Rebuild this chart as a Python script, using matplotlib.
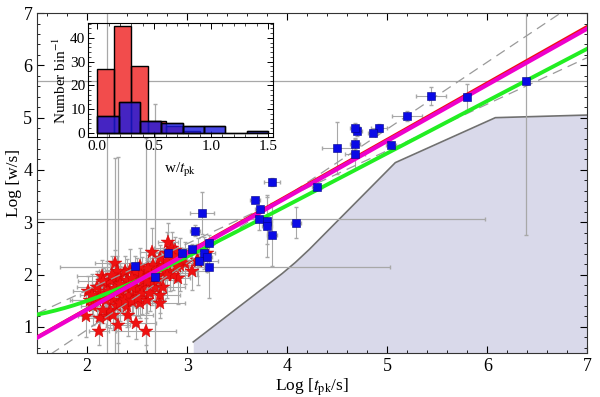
import numpy as np
import matplotlib
matplotlib.use("Agg")
import matplotlib.pyplot as plt
from matplotlib.ticker import MultipleLocator

plt.rcParams['font.family'] = ['Liberation Serif', 'DejaVu Serif']
plt.rcParams['mathtext.fontset'] = 'stix'

# ---------------- data ----------------
star_x = [2.12, 2.01, 2.03, 2.06, 1.99, 2.15, 2.28, 2.20, 2.13, 2.20, 2.31, 2.49, 2.59, 2.40, 2.53, 2.46,
          2.60, 2.73, 2.65, 2.73, 2.68, 2.76, 2.65, 2.81, 2.85, 2.80, 2.88, 2.83, 2.91, 2.86, 2.71, 2.98,
          3.05, 3.10, 3.20, 3.11, 2.23, 2.30, 2.33, 2.38, 2.43, 2.50, 2.55, 2.60, 2.46, 2.40, 2.33, 2.26,
          2.30, 2.23, 2.16, 2.10, 2.13, 2.21, 2.28, 2.35, 2.41, 2.50, 2.56, 2.55, 2.63, 2.70, 2.76, 2.78,
          2.66, 2.61, 2.53, 2.48, 2.40, 2.45, 2.30, 2.25, 2.16, 2.10, 2.05, 2.33, 2.38, 2.45, 2.51, 2.65,
          2.71, 2.80, 2.86, 2.93, 2.56, 2.63, 2.41, 2.26, 2.19, 2.33, 2.45, 2.60, 2.73, 2.80, 2.90, 2.70]
star_y = [0.91, 1.68, 1.52, 1.39, 1.20, 1.98, 2.22, 1.81, 1.17, 1.20, 1.04, 1.07, 0.91, 1.39, 1.46, 1.58,
          1.52, 1.46, 1.81, 1.61, 1.77, 1.77, 2.44, 2.63, 2.51, 2.41, 2.47, 2.03, 1.93, 2.00, 2.19, 2.22,
          2.06, 2.28, 2.41, 2.25, 1.90, 1.87, 1.97, 2.06, 2.09, 1.97, 2.03, 2.06, 1.84, 1.74, 1.68, 1.52,
          1.39, 1.33, 1.33, 1.52, 1.65, 1.68, 1.74, 1.58, 1.58, 1.71, 1.77, 1.65, 2.00, 2.06, 2.16, 2.06,
          2.19, 2.12, 2.16, 2.06, 1.90, 1.93, 2.06, 2.00, 1.87, 1.77, 1.61, 1.46, 1.52, 1.49, 1.55, 1.93,
          1.90, 2.25, 2.35, 2.19, 1.90, 1.65, 1.23, 1.23, 1.52, 1.81, 1.77, 1.87, 2.32, 2.00, 2.16, 1.97]
star_xerr = [0.10, 0.15, 0.20, 0.12, 0.08, 0.25, 0.20, 0.15, 0.18, 0.10, 0.12, 0.20, 0.30, 0.15, 0.22, 0.12,
             0.18, 0.25, 0.10, 0.20, 0.15, 0.22, 0.12, 0.10, 0.18, 0.15, 0.20, 0.25, 0.12, 0.15, 0.20, 0.18,
             0.15, 0.10, 0.08, 0.20, 0.12, 0.18, 0.22, 0.15, 0.25, 0.12, 0.20, 0.15, 0.18, 0.22, 0.10, 0.15,
             0.20, 0.12, 0.18, 0.25, 0.15, 0.10, 0.20, 0.18, 0.12, 0.22, 0.15, 0.10, 0.20, 0.25, 0.15, 0.12,
             0.18, 0.20, 0.10, 0.15, 0.22, 0.12, 0.18, 0.15, 0.25, 0.20, 0.12, 0.15, 0.18, 0.22, 0.10, 0.15,
             0.20, 0.12, 0.18, 0.15, 0.22, 0.10, 0.25, 0.15, 0.12, 0.20, 0.18, 0.15, 0.10, 0.22, 0.12, 0.18]
star_yerr = [0.25, 0.30, 0.20, 0.35, 0.40, 0.30, 0.25, 0.45, 0.30, 0.20, 0.35, 0.30, 0.25, 0.40, 0.30, 0.35,
             0.25, 0.30, 0.40, 0.35, 0.30, 0.25, 0.45, 0.35, 0.30, 0.40, 0.25, 0.35, 0.50, 0.30, 0.25, 0.40,
             0.35, 0.30, 0.25, 0.45, 0.30, 0.35, 0.25, 0.30, 0.40, 0.35, 0.30, 0.25, 0.35, 0.30, 0.40, 0.25,
             0.30, 0.35, 0.25, 0.40, 0.30, 0.35, 0.25, 0.30, 0.45, 0.35, 0.30, 0.40, 0.25, 0.30, 0.35, 0.40,
             0.30, 0.25, 0.35, 0.30, 0.40, 0.25, 0.30, 0.35, 0.25, 0.30, 0.40, 0.35, 0.30, 0.25, 0.35, 0.30,
             0.45, 0.30, 0.25, 0.50, 0.30, 0.35, 0.40, 0.30, 0.25, 0.35, 0.30, 0.40, 0.25, 0.45, 0.30, 0.35]

sq_x = [6.39, 5.80, 5.44, 5.20, 4.92, 4.86, 4.70, 4.68, 4.68, 4.68, 5.04, 4.50, 4.30, 3.85, 3.68, 3.73,
        3.72, 3.80, 3.80, 3.85, 4.09, 3.15, 3.08, 3.22, 3.05, 3.17, 3.20, 3.22, 2.48, 2.81, 2.95, 3.12, 2.68]
sq_y = [5.70, 5.40, 5.42, 5.03, 4.80, 4.71, 4.75, 4.80, 4.50, 4.31, 4.48, 4.42, 3.68, 3.77, 3.43, 3.26,
        3.06, 3.03, 2.93, 2.76, 2.99, 3.18, 2.84, 2.61, 2.49, 2.41, 2.34, 2.15, 2.17, 2.41, 2.41, 2.26, 1.96]
sq_xerr = [0.00, 0.00, 0.15, 0.15, 0.08, 0.05, 0.05, 0.05, 0.05, 0.10, 0.05, 0.15, 0.05, 0.08, 0.05, 0.05,
           0.00, 0.05, 0.05, 0.05, 0.05, 0.12, 0.05, 0.05, 0.10, 0.05, 0.05, 0.00, 0.05, 0.05, 0.05, 0.10, 0.05]
sq_yerr = [0.00, 0.25, 0.17, 0.10, 0.08, 0.05, 0.10, 0.10, 0.10, 0.30, 0.05, 0.50, 0.05, 0.08, 0.05, 0.05,
           0.20, 0.45, 0.60, 0.60, 0.30, 0.40, 0.10, 0.05, 0.10, 0.30, 0.30, 0.60, 0.05, 0.10, 0.10, 0.10, 0.05]

# very large (asymmetric) error bars
long_x = [2.20, 2.28, 2.31, 2.59, 2.68, 6.39, 3.72, 3.22]
long_y = [1.20, 2.22, 1.04, 0.91, 1.77, 5.70, 3.06, 2.15]
long_xlo = [0.00, 0.00, 0.00, 0.00, 0.00, 4.95, 2.30, 1.49]
long_xhi = [0.00, 0.00, 0.00, 0.00, 0.00, 0.70, 2.26, 1.81]
long_ylo = [1.00, 2.00, 1.00, 0.60, 1.50, 2.94, 0.00, 0.00]
long_yhi = [6.00, 2.00, 3.20, 3.70, 3.50, 1.50, 0.00, 0.00]

# excluded region boundary
bound_x = [3.06, 3.95, 4.08, 4.22, 5.08, 6.08, 7.00]
bound_y = [0.71, 2.02, 2.23, 2.48, 4.14, 5.00, 5.05]

# fits
magenta_slope, magenta_icpt = 1.075, -0.82
red_slope, red_icpt = 1.08, -0.81
green_floor, green_slope, green_icpt = 1.02, 1.00, -0.68
dash_a_slope, dash_a_icpt = 1.28, -1.616
dash_b_slope, dash_b_icpt = 0.89, -0.08

# inset histograms
red_edges = [0.0, 0.15, 0.30, 0.45, 0.60, 0.75, 0.90]
red_counts = [27, 45, 28, 5, 3, 1]
blue_edges = [0.0, 0.1875, 0.375, 0.5625, 0.75, 0.9375, 1.125, 1.3125, 1.5]
blue_counts = [7, 13, 5, 4, 3, 3, 0, 1]

# ---------------- figure ----------------
fig = plt.figure(figsize=(6.0, 3.97), dpi=100)
ax = fig.add_axes([0.062, 0.111, 0.917, 0.856])
ax.set_xlim(1.5, 7)
ax.set_ylim(0.5, 7)

ax.fill_between(bound_x, bound_y, 0.0, color='#d9d9ea', lw=0, zorder=1)
ax.plot(bound_x, bound_y, color='#707070', lw=1.2, zorder=2)

ecol = '#a8a8a8'
ax.errorbar(long_x, long_y, xerr=[long_xlo, long_xhi], yerr=[long_ylo, long_yhi], fmt='none',
            ecolor=ecol, elinewidth=0.9, capsize=1.5, zorder=2)
ax.errorbar(star_x, star_y, xerr=star_xerr, yerr=star_yerr, fmt='none',
            ecolor=ecol, elinewidth=0.8, capsize=1.5, zorder=2)
ax.errorbar(sq_x, sq_y, xerr=sq_xerr, yerr=sq_yerr, fmt='none',
            ecolor=ecol, elinewidth=0.8, capsize=1.5, zorder=2)

ax.plot(star_x, star_y, ls='none', marker='*', ms=10, color='#ee1111', mec='#cc0000', mew=0.3, zorder=3)

xx = np.linspace(1.5, 7, 300)
ax.plot(xx, dash_a_slope * xx + dash_a_icpt, color='#9a9a9a', lw=0.9, dashes=(8, 5), zorder=3)
ax.plot(xx, dash_b_slope * xx + dash_b_icpt, color='#9a9a9a', lw=0.9, dashes=(8, 5), zorder=3)
ax.plot(xx, np.log10(10 ** green_floor + 10 ** (green_slope * xx + green_icpt)), color='#22ee22', lw=2.8, zorder=4)
ax.plot(xx, red_slope * xx + red_icpt, color='#ee1111', lw=2.0, zorder=4)
ax.plot(xx, magenta_slope * xx + magenta_icpt, color='#ee00cc', lw=3.0, zorder=5)

ax.plot(sq_x, sq_y, ls='none', marker='s', ms=6.0, color='#0a0ae6', mec='#000088', mew=0.4, zorder=6)

ax.xaxis.set_major_locator(MultipleLocator(1))
ax.xaxis.set_minor_locator(MultipleLocator(0.2))
ax.yaxis.set_major_locator(MultipleLocator(1))
ax.yaxis.set_minor_locator(MultipleLocator(0.2))
ax.tick_params(which='both', direction='in', top=True, right=True, labelsize=13)
ax.tick_params(which='major', length=5, width=0.8)
ax.tick_params(which='minor', length=2.5, width=0.6)
for s in ax.spines.values():
    s.set_linewidth(0.8)
    s.set_color('#333333')
ax.set_xlabel(r'Log [$t_{\rm pk}$/s]', fontsize=12.5, labelpad=1)
ax.set_ylabel('Log [w/s]', fontsize=12.5, labelpad=1)

# inset
ins = fig.add_axes([0.147, 0.655, 0.308, 0.287])
ins.set_facecolor('none')
ins.stairs(red_counts, red_edges, fill=True, color='#f24c4c', zorder=1)
ins.bar(red_edges[:-1], red_counts, width=np.diff(red_edges), align='edge', fill=False,
        edgecolor='black', lw=1.0, zorder=2)
ins.bar(blue_edges[:-1], blue_counts, width=np.diff(blue_edges), align='edge', color='#1a1ae0',
        alpha=0.8, edgecolor='black', lw=1.0, zorder=3)
ins.bar(blue_edges[:-1], blue_counts, width=np.diff(blue_edges), align='edge', fill=False,
        edgecolor='black', lw=1.0, zorder=4)
ins.set_xlim(-0.079, 1.544)
ins.set_ylim(-1.7, 46.3)
ins.xaxis.set_major_locator(MultipleLocator(0.5))
ins.xaxis.set_minor_locator(MultipleLocator(0.1))
ins.yaxis.set_major_locator(MultipleLocator(10))
ins.yaxis.set_minor_locator(MultipleLocator(2))
ins.tick_params(which='both', direction='in', top=True, right=True, labelsize=11, pad=2)
ins.tick_params(which='major', length=4, width=0.7)
ins.tick_params(which='minor', length=2, width=0.5)
ins.xaxis.set_major_formatter(matplotlib.ticker.FormatStrFormatter('%.1f'))
ins.set_xlabel(r'w/$t_{\rm pk}$', fontsize=11, labelpad=6)
ins.set_ylabel(r'Number bin$^{-1}$', fontsize=11, labelpad=1)

fig.savefig('out.png', dpi=100)
